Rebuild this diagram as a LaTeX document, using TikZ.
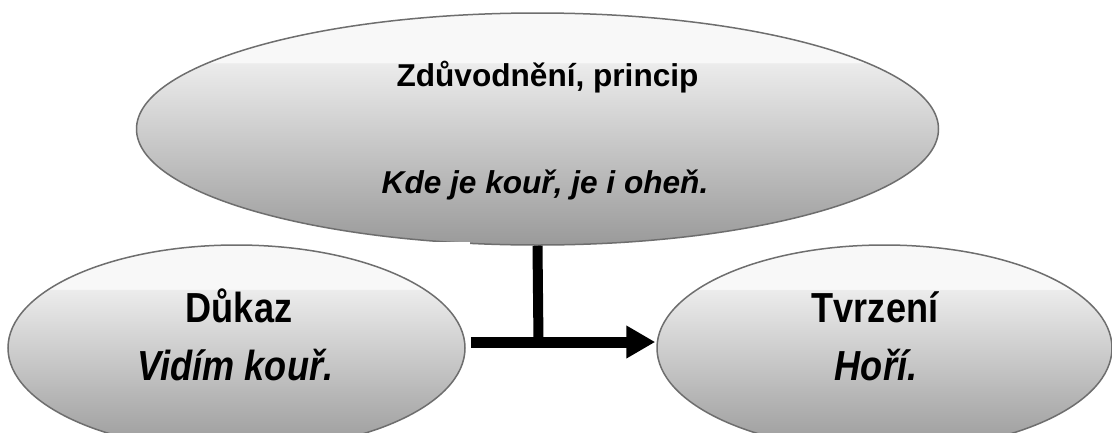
\documentclass[tikz,border=0pt]{standalone}
\usepackage{fontspec}
\setmainfont{Liberation Sans}
\newfontfamily\narrowfont{Liberation Sans}[FakeStretch=0.86]
\usetikzlibrary{shapes.geometric,arrows.meta}
\definecolor{gtop}{HTML}{F8F8F8}
\definecolor{gmid}{HTML}{ECECEC}
\definecolor{gbot}{HTML}{9A9A9A}
\definecolor{edgegray}{HTML}{6E6E6E}
\pgfdeclareverticalshading{glossy}{100bp}{color(0bp)=(gbot); color(25bp)=(gbot); color(64.2bp)=(gmid); color(64.3bp)=(gtop); color(100bp)=(gtop)}
\tikzset{
  oval/.style={ellipse, draw=edgegray, line width=1.5pt, shading=glossy, inner sep=0pt},
  toptext/.style={anchor=base, inner sep=0pt, font=\fontsize{31.6}{36}\selectfont\bfseries},
  lowtext/.style={anchor=base, inner sep=0pt, font=\fontsize{42}{48}\narrowfont\bfseries},
  connector/.style={draw=black, line width=10pt},
  mainarrow/.style={draw=black, line width=11pt, -{Triangle[length=29pt,width=31pt]}}
}
\begin{document}
\begin{tikzpicture}[x=1pt,y=-1pt]
\clip (0,0) rectangle (1112,432);
\fill[white] (0,0) rectangle (1112,432);
% top ellipse
\node[oval, minimum width=802pt, minimum height=232pt] (T) at (537.5,129) {};
\node[toptext] (t1) at (547.5,86) {Zdůvodnění, princip};
\node[toptext, font=\fontsize{31.6}{36}\selectfont\bfseries\itshape] (t2) at (545,193) {Kde je kouř, je i oheň.};
% white box of the lower-left shape cutting the top ellipse
\fill[white] (430,242) rectangle (470,252);
% lower ellipses
\node[oval, minimum width=457pt, minimum height=206pt] (L) at (236.5,348) {};
\node[oval, minimum width=455pt, minimum height=206pt] (R) at (884.5,348) {};
\node[lowtext] (l1) at (239,322) {Důkaz};
\node[lowtext, font=\fontsize{42}{48}\narrowfont\bfseries\itshape] (l2) at (235.5,380) {Vidím kouř.};
\node[lowtext] (r1) at (875,322) {Tvrzení};
\node[lowtext, font=\fontsize{42}{48}\narrowfont\bfseries\itshape] (r2) at (876,380) {Hoří.};
% connectors
\coordinate (J) at (538.5,342);
\draw[connector] (T.south) -- (J);
\draw[mainarrow] (L.east |- J) ++(5,0) -- ([xshift=-1pt]R.west |- J);
\end{tikzpicture}
\end{document}
